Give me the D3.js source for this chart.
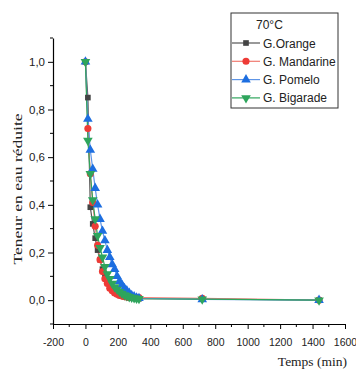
<!DOCTYPE html>
<html>
<head>
<meta charset="utf-8">
<script src="https://cdn.jsdelivr.net/npm/d3@7"></script>
<style>
  body { margin: 0; background: #fff; }
  svg { display: block; }
</style>
</head>
<body>
<div id="chart"></div>
<script>
// Sampling times (min)
const times = [0, 15, 30, 45, 60, 75, 90, 105, 120, 135, 150, 165, 180, 195, 210, 225, 240, 255, 270, 285, 300, 315, 330, 720, 1440];

// Reduced water content for each peel
const orange    = [1.0, 0.85, 0.39, 0.32, 0.26, 0.21, 0.17, 0.13, 0.10, 0.08, 0.06, 0.045, 0.035, 0.028, 0.022, 0.018, 0.015, 0.012, 0.010, 0.009, 0.008, 0.007, 0.006, 0.005, 0.0];
const mandarine = [1.0, 0.72, 0.53, 0.41, 0.31, 0.23, 0.17, 0.12, 0.09, 0.07, 0.05, 0.04, 0.03, 0.025, 0.02, 0.017, 0.015, 0.013, 0.012, 0.011, 0.011, 0.011, 0.011, 0.008, 0.0];
const pomelo    = [1.0, 0.76, 0.63, 0.55, 0.47, 0.40, 0.34, 0.29, 0.25, 0.21, 0.18, 0.15, 0.13, 0.10, 0.08, 0.065, 0.05, 0.04, 0.03, 0.02, 0.015, 0.01, 0.008, 0.003, 0.0];
const bigarade  = [1.0, 0.67, 0.53, 0.42, 0.34, 0.27, 0.22, 0.18, 0.14, 0.11, 0.09, 0.07, 0.055, 0.045, 0.035, 0.028, 0.022, 0.018, 0.014, 0.011, 0.009, 0.007, 0.006, 0.004, 0.0];

const seriesNames = ["G.Orange", "G. Mandarine", "G. Pomelo", "G. Bigarade"];
const xTicks = [-200, 0, 200, 400, 600, 800, 1000, 1200, 1400, 1600];
const yTicks = [0, 0.2, 0.4, 0.6, 0.8, 1.0];

const series = [
    {name: seriesNames[0], values: orange,    color: "#444444", line: "#555555", shape: d3.symbolSquare, size: 32, rot: 0},
    {name: seriesNames[1], values: mandarine, color: "#ee3b36", line: "#f07a70", shape: d3.symbolCircle, size: 40, rot: 0},
    {name: seriesNames[2], values: pomelo,    color: "#1d6ee0", line: "#5e95e6", shape: d3.symbolTriangle, size: 40, rot: 0},
    {name: seriesNames[3], values: bigarade,  color: "#2ea55c", line: "#2ea55c", shape: d3.symbolTriangle, size: 40, rot: 180}
];

const svgWidth = 356, svgHeight = 369;
const svg = d3.select("#chart")
    .append("svg")
    .attr("width", svgWidth)
    .attr("height", svgHeight);

// plot region: x from 53 to 345, y from 38 (1.1) to 324 (-0.1)
const x = d3.scaleLinear().domain([-200, 1600]).range([53, 345]);
const y = d3.scaleLinear().domain([-0.1, 1.1]).range([324, 38]);

const fmt = d => d3.format(".1f")(d).replace(".", ",");

// y axis
const yAxis = svg.append("g")
    .attr("transform", `translate(${x(-200)},0)`)
    .call(d3.axisLeft(y).tickValues(yTicks).tickFormat(fmt).tickSize(5).tickSizeOuter(0));
yAxis.append("g")
    .selectAll("line")
    .data(d3.range(-0.1, 1.11, 0.1).map(v => +v.toFixed(1)).filter(v => !yTicks.includes(v)))
    .enter()
    .append("line")
        .attr("x1", -3).attr("x2", 0)
        .attr("y1", d => y(d)).attr("y2", d => y(d))
        .attr("stroke", "#000");

// x axis (plain hyphen for negatives, like the original)
const xAxis = svg.append("g")
    .attr("transform", `translate(0,${y(-0.1)})`)
    .call(d3.axisBottom(x).tickValues(xTicks).tickFormat(d => String(d)).tickSize(5).tickSizeOuter(0));
xAxis.append("g")
    .selectAll("line")
    .data(d3.range(-100, 1600, 200))
    .enter()
    .append("line")
        .attr("x1", d => x(d)).attr("x2", d => x(d))
        .attr("y1", 0).attr("y2", 3)
        .attr("stroke", "#000");

[yAxis, xAxis].forEach(a => {
    a.select(".domain").attr("stroke", "#000").attr("stroke-width", 1.2);
    a.selectAll(".tick line").attr("stroke", "#000");
    a.selectAll("text")
        .attr("font-family", "Liberation Sans, Arial, sans-serif")
        .attr("fill", "#222");
});
xAxis.selectAll(".tick text").attr("font-size", 10.5).attr("dy", "1.35em");
yAxis.selectAll(".tick text").attr("font-size", 11.5).attr("x", -8);

// lines and markers
const line = d3.line()
    .x((d, i) => x(times[i]))
    .y(d => y(d));

series.forEach(s => {
    svg.append("path")
        .datum(s.values)
        .attr("fill", "none")
        .attr("stroke", s.line)
        .attr("stroke-width", 1.2)
        .attr("d", line);
});
series.forEach(s => {
    svg.append("g")
        .selectAll("path")
        .data(s.values)
        .enter()
        .append("path")
            .attr("d", d3.symbol().type(s.shape).size(s.size))
            .attr("transform", (d, i) => `translate(${x(times[i])},${y(d)}) rotate(${s.rot})`)
            .attr("fill", s.color);
});

// axis titles (the original is stretched along the text direction)
svg.append("text")
    .attr("transform", `translate(22,${189}) rotate(-90) scale(1.35,1)`)
    .attr("text-anchor", "middle")
    .attr("font-family", "Liberation Serif, Times New Roman, serif")
    .attr("font-size", 13)
    .attr("fill", "#222")
    .text("Teneur en eau réduite");

svg.append("text")
    .attr("x", 347)
    .attr("y", 366)
    .attr("text-anchor", "end")
    .attr("font-family", "Liberation Serif, Times New Roman, serif")
    .attr("font-size", 13.5)
    .attr("fill", "#222")
    .text("Temps (min)");

// legend
const legend = svg.append("g");
legend.append("rect")
    .attr("x", 231).attr("y", 13)
    .attr("width", 107).attr("height", 95)
    .attr("fill", "#fff")
    .attr("stroke", "#333")
    .attr("stroke-width", 1);
legend.append("text")
    .attr("x", 256).attr("y", 29)
    .attr("font-family", "Liberation Sans, Arial, sans-serif")
    .attr("font-size", 12)
    .attr("fill", "#222")
    .text("70°C");

const rows = legend.selectAll(".row")
    .data(series)
    .enter()
    .append("g")
    .attr("transform", (d, i) => `translate(0,${43 + i * 18.3})`);
rows.append("line")
    .attr("x1", 232).attr("x2", 260)
    .attr("y1", 0).attr("y2", 0)
    .attr("stroke", d => d.line)
    .attr("stroke-width", 1.2);
rows.append("path")
    .attr("d", d => d3.symbol().type(d.shape).size(d.size)())
    .attr("transform", d => `translate(246,0) rotate(${d.rot})`)
    .attr("fill", d => d.color);
rows.append("text")
    .attr("x", 263).attr("y", 4.5)
    .attr("font-family", "Liberation Sans, Arial, sans-serif")
    .attr("font-size", 12)
    .attr("fill", "#222")
    .text(d => d.name);
</script>
</body>
</html>
